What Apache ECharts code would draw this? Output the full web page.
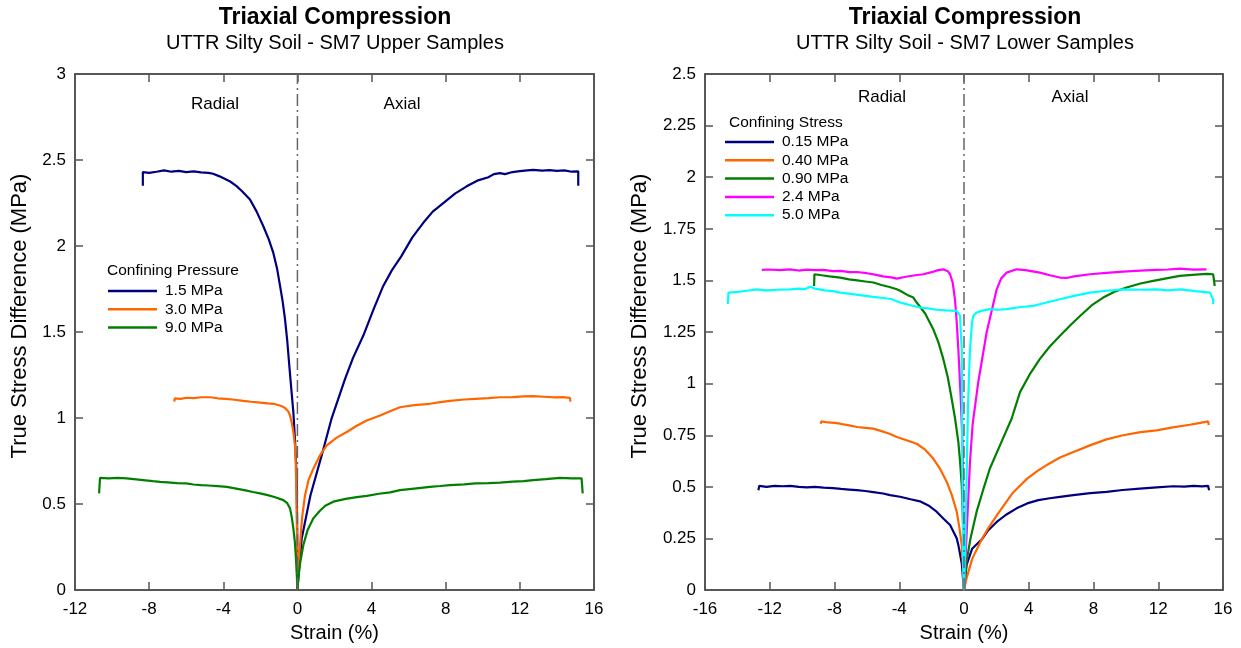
<!DOCTYPE html>
<html>
<head>
<meta charset="utf-8">
<title>Triaxial Compression</title>
<script src="https://cdn.jsdelivr.net/npm/echarts@6/dist/echarts.min.js"></script>
<style>
  html, body { margin: 0; padding: 0; background: #ffffff; }
  #chart { width: 1241px; height: 648px; }
</style>
</head>
<body>
<div id="chart"></div>
<script>
// ---- Axis ticks ----
const upperXTicks = { min: -12, max: 16, interval: 4 };
const upperYTicks = { min: 0, max: 3, interval: 0.5 };
const lowerXTicks = { min: -16, max: 16, interval: 4 };
const lowerYTicks = { min: 0, max: 2.5, interval: 0.25 };

// ---- Upper samples: [strain %, true stress difference MPa], radial (negative) through axial ----
const upperNames = ['1.5 MPa', '3.0 MPa', '9.0 MPa'];
const upper15 = [
  [-8.34,2.35],[-8.34,2.43],[-8.0,2.425],[-7.6,2.432],[-7.2,2.44],[-6.8,2.432],[-6.4,2.437],[-6.0,2.43],
  [-5.6,2.434],[-5.2,2.428],[-4.8,2.425],[-4.55,2.42],[-4.2,2.405],[-3.9,2.39],[-3.63,2.375],[-3.3,2.35],
  [-3.0,2.32],[-2.56,2.27],[-2.2,2.2],[-1.84,2.115],[-1.55,2.04],[-1.30,1.96],[-1.1,1.87],[-0.94,1.77],
  [-0.8,1.68],[-0.67,1.575],[-0.55,1.45],[-0.45,1.32],[-0.38,1.23],[-0.22,1.035],[-0.12,0.85],[-0.04,0.65],
  [-0.01,0.3],[0,0],
  [0.1,0.14],[0.23,0.30],[0.7,0.55],[1.3,0.78],[1.85,1.0],[2.57,1.228],[3.0,1.35],[3.55,1.478],[4.1,1.63],
  [4.63,1.768],[5.1,1.86],[5.6,1.94],[6.2,2.05],[6.79,2.135],[7.3,2.2],[7.87,2.25],[8.5,2.305],[9.13,2.347],
  [9.7,2.38],[10.3,2.40],[10.6,2.418],[10.93,2.424],[11.2,2.418],[11.6,2.43],[12.0,2.435],[12.4,2.44],
  [12.72,2.443],[13.2,2.438],[13.6,2.441],[14.0,2.437],[14.4,2.44],[14.8,2.432],[15.15,2.434],[15.15,2.35]
];
const upper30 = [
  [-6.64,1.096],[-6.62,1.115],[-6.3,1.112],[-6.0,1.118],[-5.6,1.116],[-5.2,1.121],[-4.71,1.121],[-4.3,1.115],
  [-3.9,1.112],[-3.5,1.108],[-2.92,1.10],[-2.5,1.095],[-2.0,1.09],[-1.6,1.085],[-1.30,1.083],[-0.94,1.073],
  [-0.7,1.062],[-0.5,1.04],[-0.4,1.015],[-0.3,0.97],[-0.22,0.919],[-0.13,0.84],[-0.09,0.745],[-0.04,0.456],
  [-0.01,0.2],[0,0],
  [0.05,0.146],[0.14,0.262],[0.25,0.42],[0.41,0.552],[0.6,0.64],[0.86,0.706],[1.2,0.78],[1.58,0.841],
  [2.1,0.885],[2.66,0.919],[3.2,0.955],[3.74,0.986],[4.46,1.015],[5.0,1.04],[5.53,1.063],[6.3,1.075],
  [7.15,1.083],[7.7,1.093],[8.23,1.10],[9.0,1.108],[9.6,1.112],[10.3,1.116],[10.93,1.121],[11.6,1.122],
  [12.2,1.126],[12.72,1.127],[13.3,1.124],[13.9,1.12],[14.3,1.122],[14.7,1.117],[14.73,1.096]
];
const upper90 = [
  [-10.70,0.562],[-10.65,0.652],[-10.2,0.65],[-9.7,0.652],[-9.21,0.649],[-8.7,0.644],[-8.2,0.638],
  [-7.8,0.633],[-7.41,0.629],[-7.0,0.626],[-6.5,0.622],[-6.0,0.62],[-5.61,0.614],[-5.2,0.61],[-4.8,0.608],
  [-4.3,0.604],[-3.81,0.60],[-3.3,0.59],[-2.8,0.58],[-2.4,0.57],[-2.02,0.562],[-1.6,0.552],[-1.2,0.54],
  [-0.76,0.523],[-0.55,0.505],[-0.40,0.475],[-0.3,0.42],[-0.22,0.359],[-0.14,0.28],[-0.08,0.185],
  [-0.03,0.08],[0,0],
  [0.05,0.07],[0.15,0.16],[0.32,0.262],[0.55,0.35],[0.86,0.417],[1.2,0.46],[1.5,0.49],[1.94,0.514],
  [2.6,0.53],[3.2,0.54],[3.74,0.548],[4.4,0.56],[5.0,0.568],[5.53,0.581],[6.3,0.59],[7.15,0.60],
  [7.7,0.605],[8.23,0.61],[9.0,0.615],[9.6,0.62],[10.3,0.622],[10.93,0.625],[11.6,0.63],[12.2,0.634],
  [12.72,0.639],[13.4,0.645],[14.16,0.652],[14.8,0.65],[15.33,0.649],[15.39,0.562]
];

// ---- Lower samples ----
const lowerNames = ['0.15 MPa', '0.40 MPa', '0.90 MPa', '2.4 MPa', '5.0 MPa'];
const lower015 = [
  [-12.70,0.484],[-12.65,0.505],[-12.2,0.50],[-11.7,0.505],[-11.2,0.503],[-10.74,0.505],[-10.2,0.50],
  [-9.7,0.498],[-9.2,0.50],[-8.68,0.496],[-8.1,0.494],[-7.6,0.49],[-7.1,0.487],[-6.62,0.484],[-6.1,0.48],
  [-5.6,0.475],[-5.0,0.468],[-4.57,0.46],[-3.95,0.452],[-3.3,0.44],[-2.72,0.43],[-2.2,0.41],[-1.69,0.38],
  [-1.28,0.347],[-0.86,0.315],[-0.45,0.251],[-0.35,0.219],[-0.14,0.13],[0,0],
  [0.16,0.122],[0.5,0.20],[1.09,0.245],[1.5,0.29],[2.02,0.33],[2.6,0.365],[3.25,0.396],[3.9,0.42],
  [4.59,0.436],[5.3,0.445],[5.93,0.452],[6.75,0.46],[7.8,0.47],[8.81,0.476],[9.8,0.485],[10.86,0.492],
  [11.9,0.498],[12.92,0.503],[13.6,0.501],[14.2,0.505],[14.7,0.502],[15.08,0.505],[15.14,0.484]
];
const lower040 = [
  [-8.85,0.806],[-8.82,0.817],[-8.4,0.812],[-8.0,0.81],[-7.65,0.806],[-7.1,0.798],[-6.6,0.79],[-6.1,0.786],
  [-5.6,0.782],[-5.1,0.77],[-4.6,0.757],[-4.15,0.742],[-3.5,0.725],[-2.92,0.709],[-2.4,0.68],[-1.9,0.637],
  [-1.5,0.59],[-1.07,0.525],[-0.75,0.46],[-0.45,0.38],[-0.28,0.30],[-0.14,0.219],[-0.05,0.1],[0,0],
  [0.16,0.058],[0.5,0.15],[1.09,0.245],[1.5,0.30],[2.1,0.37],[3.0,0.47],[3.9,0.54],[4.5,0.575],
  [5.2,0.61],[5.93,0.642],[6.8,0.67],[7.78,0.701],[8.8,0.73],[9.83,0.75],[10.9,0.765],[11.9,0.774],
  [12.9,0.788],[13.95,0.801],[14.6,0.81],[15.08,0.817],[15.12,0.80]
];
const lower090 = [
  [-9.26,1.473],[-9.24,1.53],[-8.8,1.525],[-8.3,1.52],[-7.65,1.514],[-7.1,1.505],[-6.6,1.50],[-6.1,1.495],
  [-5.6,1.49],[-5.1,1.478],[-4.6,1.468],[-4.15,1.457],[-3.95,1.45],[-3.5,1.43],[-3.13,1.417],[-2.92,1.393],
  [-2.4,1.34],[-1.9,1.264],[-1.58,1.20],[-1.28,1.12],[-1.0,1.03],[-0.76,0.927],[-0.55,0.83],[-0.35,0.718],
  [-0.25,0.63],[-0.14,0.508],[-0.05,0.30],[0,0],
  [0.16,0.138],[0.4,0.25],[0.78,0.38],[1.2,0.49],[1.6,0.589],[2.22,0.701],[2.94,0.83],[3.46,0.959],
  [4.1,1.05],[4.69,1.12],[5.3,1.18],[5.93,1.232],[6.6,1.285],[7.2,1.33],[7.9,1.38],[8.6,1.417],
  [9.3,1.445],[10.04,1.466],[10.9,1.485],[11.69,1.498],[12.5,1.51],[13.33,1.522],[14.3,1.528],
  [15.0,1.532],[15.39,1.53],[15.49,1.473]
];
const lower24 = [
  [-12.49,1.551],[-12.0,1.553],[-11.4,1.55],[-10.74,1.554],[-10.2,1.548],[-9.7,1.552],[-9.2,1.55],
  [-8.68,1.551],[-8.1,1.545],[-7.6,1.546],[-7.1,1.54],[-6.62,1.541],[-6.0,1.535],[-5.5,1.528],[-5.0,1.52],
  [-4.5,1.515],[-4.15,1.509],[-3.6,1.518],[-3.0,1.525],[-2.51,1.53],[-2.0,1.54],[-1.6,1.55],[-1.28,1.554],
  [-1.0,1.545],[-0.86,1.53],[-0.7,1.49],[-0.56,1.409],[-0.45,1.30],[-0.35,1.168],[-0.2,0.927],
  [-0.08,0.685],[0,0],
  [0.12,0.2],[0.25,0.42],[0.37,0.62],[0.53,0.8],[0.88,1.007],[1.4,1.249],[2.02,1.457],[2.3,1.51],
  [2.64,1.538],[3.25,1.554],[3.8,1.55],[4.69,1.538],[5.3,1.525],[5.93,1.514],[6.34,1.512],[6.8,1.52],
  [7.78,1.53],[8.8,1.537],[9.83,1.543],[10.9,1.548],[11.9,1.551],[12.6,1.553],[13.33,1.557],[14.2,1.552],
  [14.98,1.554]
];
const lower50 = [
  [-14.59,1.385],[-14.55,1.441],[-14.0,1.445],[-13.4,1.45],[-12.8,1.457],[-12.2,1.452],[-11.5,1.455],
  [-10.74,1.457],[-10.2,1.46],[-9.8,1.458],[-9.5,1.469],[-9.2,1.46],[-8.6,1.452],[-8.1,1.448],[-7.65,1.441],
  [-7.0,1.435],[-6.3,1.428],[-5.6,1.42],[-5.0,1.415],[-4.5,1.41],[-3.95,1.393],[-3.3,1.38],[-2.72,1.369],
  [-2.2,1.365],[-1.69,1.358],[-1.1,1.355],[-0.45,1.353],[-0.25,1.329],[-0.14,1.168],[-0.1,0.6],
  [-0.05,0.1],[0,0],
  [0.1,0.3],[0.25,0.9],[0.37,1.168],[0.5,1.30],[0.58,1.329],[0.78,1.345],[1.2,1.355],[1.6,1.361],
  [2.1,1.358],[2.64,1.361],[3.4,1.37],[4.28,1.377],[5.1,1.393],[5.93,1.409],[6.8,1.425],[7.78,1.441],
  [8.8,1.45],[9.83,1.457],[10.9,1.455],[11.9,1.457],[12.6,1.452],[13.33,1.457],[14.3,1.448],[15.19,1.441],
  [15.39,1.409],[15.39,1.385]
];

const upperColors = ['#00007f', '#ff6600', '#007f00'];
const lowerColors = ['#00007f', '#ff6600', '#007f00', '#ff00ff', '#00ffff'];

const FONT = '"Liberation Sans", Arial, Helvetica, sans-serif';

const chart = echarts.init(document.getElementById('chart'), null, { renderer: 'canvas' });

function mainXAxis(grid, t) {
  return {
    gridIndex: grid, type: 'value', position: 'bottom',
    min: t.min, max: t.max, interval: t.interval,
    name: 'Strain (%)', nameLocation: 'middle', nameGap: 31,
    nameTextStyle: { fontSize: 20, color: '#000', fontFamily: FONT },
    axisLine: { onZero: false, lineStyle: { color: '#222', width: 1.5 } },
    axisTick: { inside: true, length: 8, lineStyle: { color: '#555', width: 1.5 } },
    axisLabel: { fontSize: 17, color: '#000', fontFamily: FONT, margin: 11 },
    splitLine: { show: false }
  };
}
function topXAxis(grid, t) {
  return {
    gridIndex: grid, type: 'value', position: 'top',
    min: t.min, max: t.max, interval: t.interval,
    axisLine: { onZero: false, lineStyle: { color: '#222', width: 1.5 } },
    axisTick: { inside: true, length: 8, lineStyle: { color: '#555', width: 1.5 } },
    axisLabel: { show: false }, splitLine: { show: false }
  };
}
function mainYAxis(grid, t, gap) {
  return {
    gridIndex: grid, type: 'value', position: 'left',
    min: t.min, max: t.max, interval: t.interval,
    name: 'True Stress Difference (MPa)', nameLocation: 'middle', nameGap: gap,
    nameTextStyle: { fontSize: 22, color: '#000', fontFamily: FONT, padding: [0, 0, 0, 32] },
    axisLine: { show: true, onZero: false, lineStyle: { color: '#222', width: 1.5 } },
    axisTick: { show: true, inside: true, length: 8, lineStyle: { color: '#555', width: 1.5 } },
    axisLabel: { fontSize: 17, color: '#000', fontFamily: FONT, margin: 9 },
    splitLine: { show: false }
  };
}
function rightYAxis(grid, t) {
  return {
    gridIndex: grid, type: 'value', position: 'right',
    min: t.min, max: t.max, interval: t.interval,
    axisLine: { show: true, onZero: false, lineStyle: { color: '#222', width: 1.5 } },
    axisTick: { show: true, inside: true, length: 8, lineStyle: { color: '#555', width: 1.5 } },
    axisLabel: { show: false }, splitLine: { show: false }
  };
}

function curve(name, data, color, xi, yi) {
  return {
    type: 'line', name: name, data: data, xAxisIndex: xi, yAxisIndex: yi,
    showSymbol: false, symbol: 'none', silent: true,
    lineStyle: { color: color, width: 2.2 },
    itemStyle: { color: color }
  };
}
function divider(xi, yi, top) {
  // vertical dash-dot line separating radial and axial strain
  return {
    type: 'line', name: 'divider' + xi, data: [[0, 0], [0, top]], xAxisIndex: xi, yAxisIndex: yi,
    showSymbol: false, symbol: 'none', silent: true, z: 5,
    lineStyle: { color: '#666', width: 1.5, type: [12, 4, 2, 4] }
  };
}

const upperSets = [upper15, upper30, upper90];
const lowerSets = [lower015, lower040, lower090, lower24, lower50];

const series = [];
upperSets.forEach((d, i) => series.push(curve(upperNames[i], d, upperColors[i], 0, 0)));
series.push(divider(0, 0, upperYTicks.max));
lowerSets.forEach((d, i) => series.push(curve(lowerNames[i], d, lowerColors[i], 2, 2)));
series.push(divider(2, 2, lowerYTicks.max));

function txt(x, y, text, size, weight) {
  return {
    type: 'text', x: x, y: y, silent: true,
    style: { text: text, fill: '#000', font: (weight || 'normal') + ' ' + size + 'px ' + FONT,
             align: 'center', verticalAlign: 'middle' }
  };
}
function ltxt(x, y, text, size) {
  return {
    type: 'text', x: x, y: y, silent: true,
    style: { text: text, fill: '#000', font: 'normal ' + size + 'px ' + FONT,
             align: 'left', verticalAlign: 'middle' }
  };
}

const legendBase = {
  orient: 'vertical', icon: 'rect', itemWidth: 49, itemHeight: 2.5, itemGap: 2.3,
  selectedMode: false,
  textStyle: { fontSize: 15.5, color: '#000', fontFamily: FONT, padding: [0, 0, 0, 3] }
};

chart.setOption({
  animation: false,
  backgroundColor: '#ffffff',
  grid: [
    { left: 75, top: 74, width: 519, height: 518 },
    { left: 705, top: 74, width: 518, height: 518 }
  ],
  xAxis: [
    mainXAxis(0, upperXTicks), topXAxis(0, upperXTicks),
    mainXAxis(1, lowerXTicks), topXAxis(1, lowerXTicks)
  ],
  yAxis: [
    mainYAxis(0, upperYTicks, 44), rightYAxis(0, upperYTicks),
    mainYAxis(1, lowerYTicks, 54), rightYAxis(1, lowerYTicks)
  ],
  legend: [
    Object.assign({}, legendBase, { data: upperNames, left: 103, top: 278 }),
    Object.assign({}, legendBase, { data: lowerNames, left: 720, top: 129 })
  ],
  graphic: [
    txt(335, 18, 'Triaxial Compression', 23, 'bold'),
    txt(335, 43, 'UTTR Silty Soil - SM7 Upper Samples', 20),
    txt(965, 18, 'Triaxial Compression', 23, 'bold'),
    txt(965, 43, 'UTTR Silty Soil - SM7 Lower Samples', 20),
    txt(215, 104, 'Radial', 17),
    txt(402, 104, 'Axial', 17),
    txt(882, 97, 'Radial', 17),
    txt(1070, 97, 'Axial', 17),
    ltxt(107, 271, 'Confining Pressure', 15.5),
    ltxt(729, 123, 'Confining Stress', 15.5)
  ],
  series: series
});
</script>
</body>
</html>
